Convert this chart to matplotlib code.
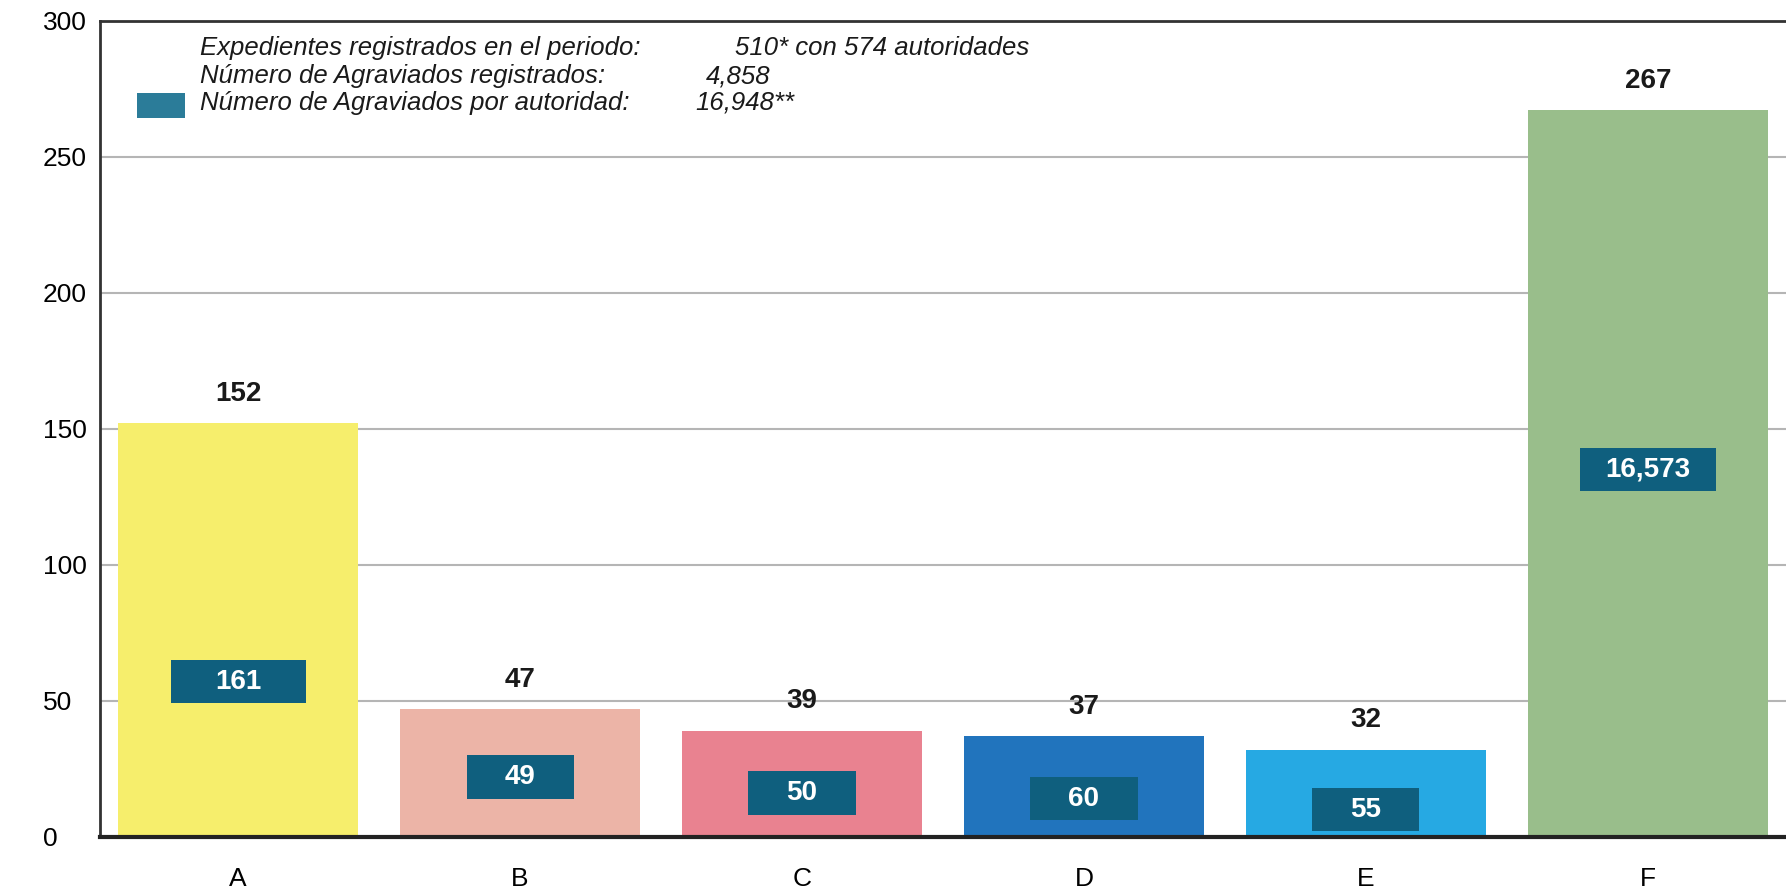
import matplotlib
matplotlib.use("Agg")
import matplotlib.pyplot as plt
from matplotlib.patches import Rectangle

plt.rcParams['font.family'] = ['Liberation Sans', 'DejaVu Sans']

categories = ['A', 'B', 'C', 'D', 'E', 'F']
expedientes = [152, 47, 39, 37, 32, 267]
agraviados = [161, 49, 50, 60, 55, 16573]
bar_colors = ['#f6ee6c', '#ecb4a7', '#e98290', '#2174bd', '#26a9e3', '#99be8b']
# vertical spot (data units) of each dark box label
box_y = [57, 22, 16, 14, 10, 135]

legend_left = ['Expedientes registrados en el periodo:',
               'Número de Agraviados registrados:',
               'Número de Agraviados por autoridad:']
legend_right = ['510* con 574 autoridades', '4,858', '16,948**']

fig = plt.figure(figsize=(17.86, 8.93), dpi=100)
ax = fig.add_axes([0.056, 0.063, 0.944, 0.914])

x = range(len(categories))
bars = ax.bar(x, expedientes, width=0.85, color=bar_colors, zorder=2)

for i, b in enumerate(bars):
    h = b.get_height()
    cx = b.get_x() + b.get_width() / 2
    ax.text(cx, h + 6, str(h), ha='center', va='bottom',
            fontsize=20, fontweight='bold', color='#1a1a1a', zorder=4)
    label = f'{agraviados[i]:,}'
    bw = 0.38 if len(label) <= 2 else 0.48
    ax.add_patch(Rectangle((cx - bw / 2, box_y[i] - 8), bw, 16,
                           facecolor='#0f5f7e', edgecolor='none', zorder=4))
    ax.text(cx, box_y[i], label, ha='center', va='center', fontsize=20,
            fontweight='bold', color='white', zorder=5)

ax.set_xlim(-0.49, 5.49)
ax.set_ylim(0, 300)
ax.set_yticks([0, 50, 100, 150, 200, 250, 300])
ax.set_xticks(list(x))
ax.set_xticklabels(categories)
ax.tick_params(axis='x', length=0, pad=22, labelsize=19)
ax.tick_params(axis='y', length=0, pad=41, labelsize=19)
for lbl in ax.get_yticklabels():
    lbl.set_horizontalalignment('left')

ax.yaxis.grid(True, color='#b5b5b5', linewidth=1.5, zorder=1)
ax.set_axisbelow(True)

for side in ['left', 'top']:
    ax.spines[side].set_color('#333333')
    ax.spines[side].set_linewidth(2)
ax.spines['bottom'].set_color('#222222')
ax.spines['bottom'].set_linewidth(3)
ax.spines['right'].set_visible(False)

# legend block
ys = [0.966, 0.932, 0.899]
xs = [0.3766, 0.3594, 0.353]
for i in range(3):
    ax.text(0.0593, ys[i], legend_left[i], transform=ax.transAxes, fontsize=18.5,
            style='italic', va='center', ha='left', color='#1a1a1a')
    ax.text(xs[i], ys[i], legend_right[i], transform=ax.transAxes, fontsize=18.5,
            style='italic', va='center', ha='left', color='#1a1a1a')
ax.add_patch(Rectangle((0.0219, 0.8806), 0.0285, 0.0304, transform=ax.transAxes,
                       facecolor='#2b7c99', edgecolor='none', zorder=5))

fig.savefig('out.png', dpi=100)
